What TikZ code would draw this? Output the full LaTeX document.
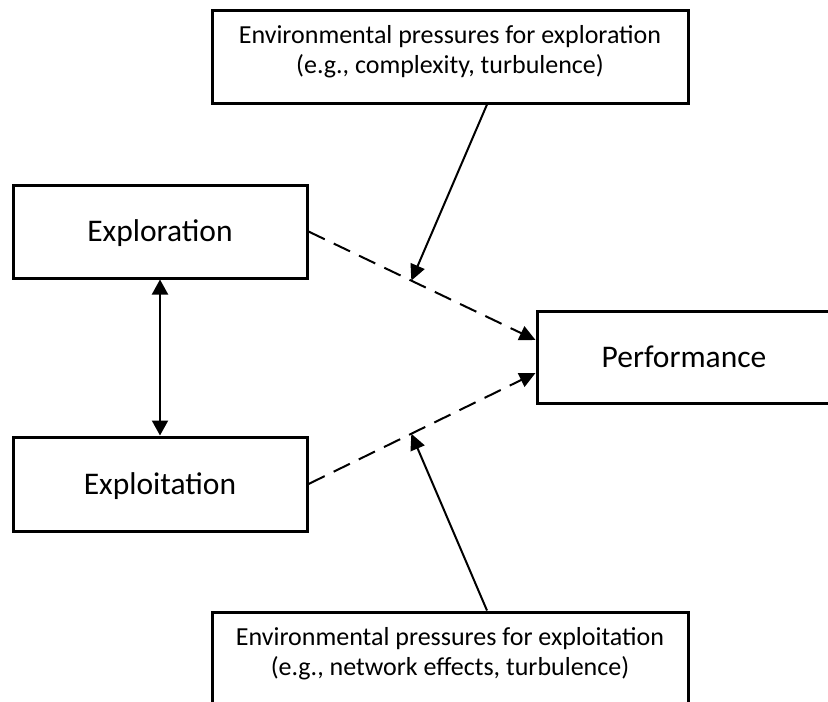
\documentclass[tikz,border=0pt]{standalone}
\usepackage{fontspec}
\setmainfont{Carlito}
\usetikzlibrary{arrows.meta,calc}
\begin{document}
\begin{tikzpicture}[x=1pt,y=-1pt,
 box/.style={draw,line width=3pt,rectangle,inner sep=0pt,align=center},
 bigtxt/.style={font=\fontsize{31.5}{37}\selectfont,text height=24pt,text depth=4pt},
 smalltxt/.style={font=\fontsize{26}{30}\selectfont,align=center,inner sep=0pt},
 conn/.style={line width=2pt,-{Triangle[length=16pt,width=15pt]}},
 dashconn/.style={conn,dash pattern=on 18pt off 10pt},
 dbl/.style={line width=2pt,{Triangle[length=15pt,width=16pt]}-{Triangle[length=15pt,width=16pt]}}]
\useasboundingbox (0,0) rectangle (828,702);
\node[box,minimum width=476pt,minimum height=93pt] (envx) at (450,56.5) {};
\node[smalltxt] (envxt) at ($(envx.center)+(0,-5)$) {Environmental pressures for exploration\\(e.g., complexity, turbulence)};
\node[box,bigtxt,minimum width=294pt,minimum height=93pt] (expl) at (160,231.5) {Exploration};
\node[box,bigtxt,minimum width=294pt,minimum height=94pt] (expt) at (160,484) {Exploitation};
\node[box,bigtxt,minimum width=294pt,minimum height=92pt] (perf) at (684,357) {Performance};
\node[box,minimum width=476pt,minimum height=93pt] (envt) at (450,658.5) {};
\node[smalltxt] (envtt) at ($(envt.center)+(0,-5)$) {Environmental pressures for exploitation\\(e.g., network effects, turbulence)};
\coordinate (pa) at ($(perf.west)+(0,-17)$);
\coordinate (pb) at ($(perf.west)+(0,16)$);
\draw[dashconn] (expl.east) -- coordinate[pos=0.453] (m1) (pa);
\draw[dashconn] (expt.east) -- coordinate[pos=0.453] (m2) (pb);
\coordinate (t1) at ($(envx.south)+(37,0)$);
\coordinate (b1) at ($(envt.north)+(37,0)$);
\draw[conn] (t1) -- (m1);
\draw[conn] (b1) -- (m2);
\draw[dbl] (expl.south) -- (expt.north);
\end{tikzpicture}
\end{document}
